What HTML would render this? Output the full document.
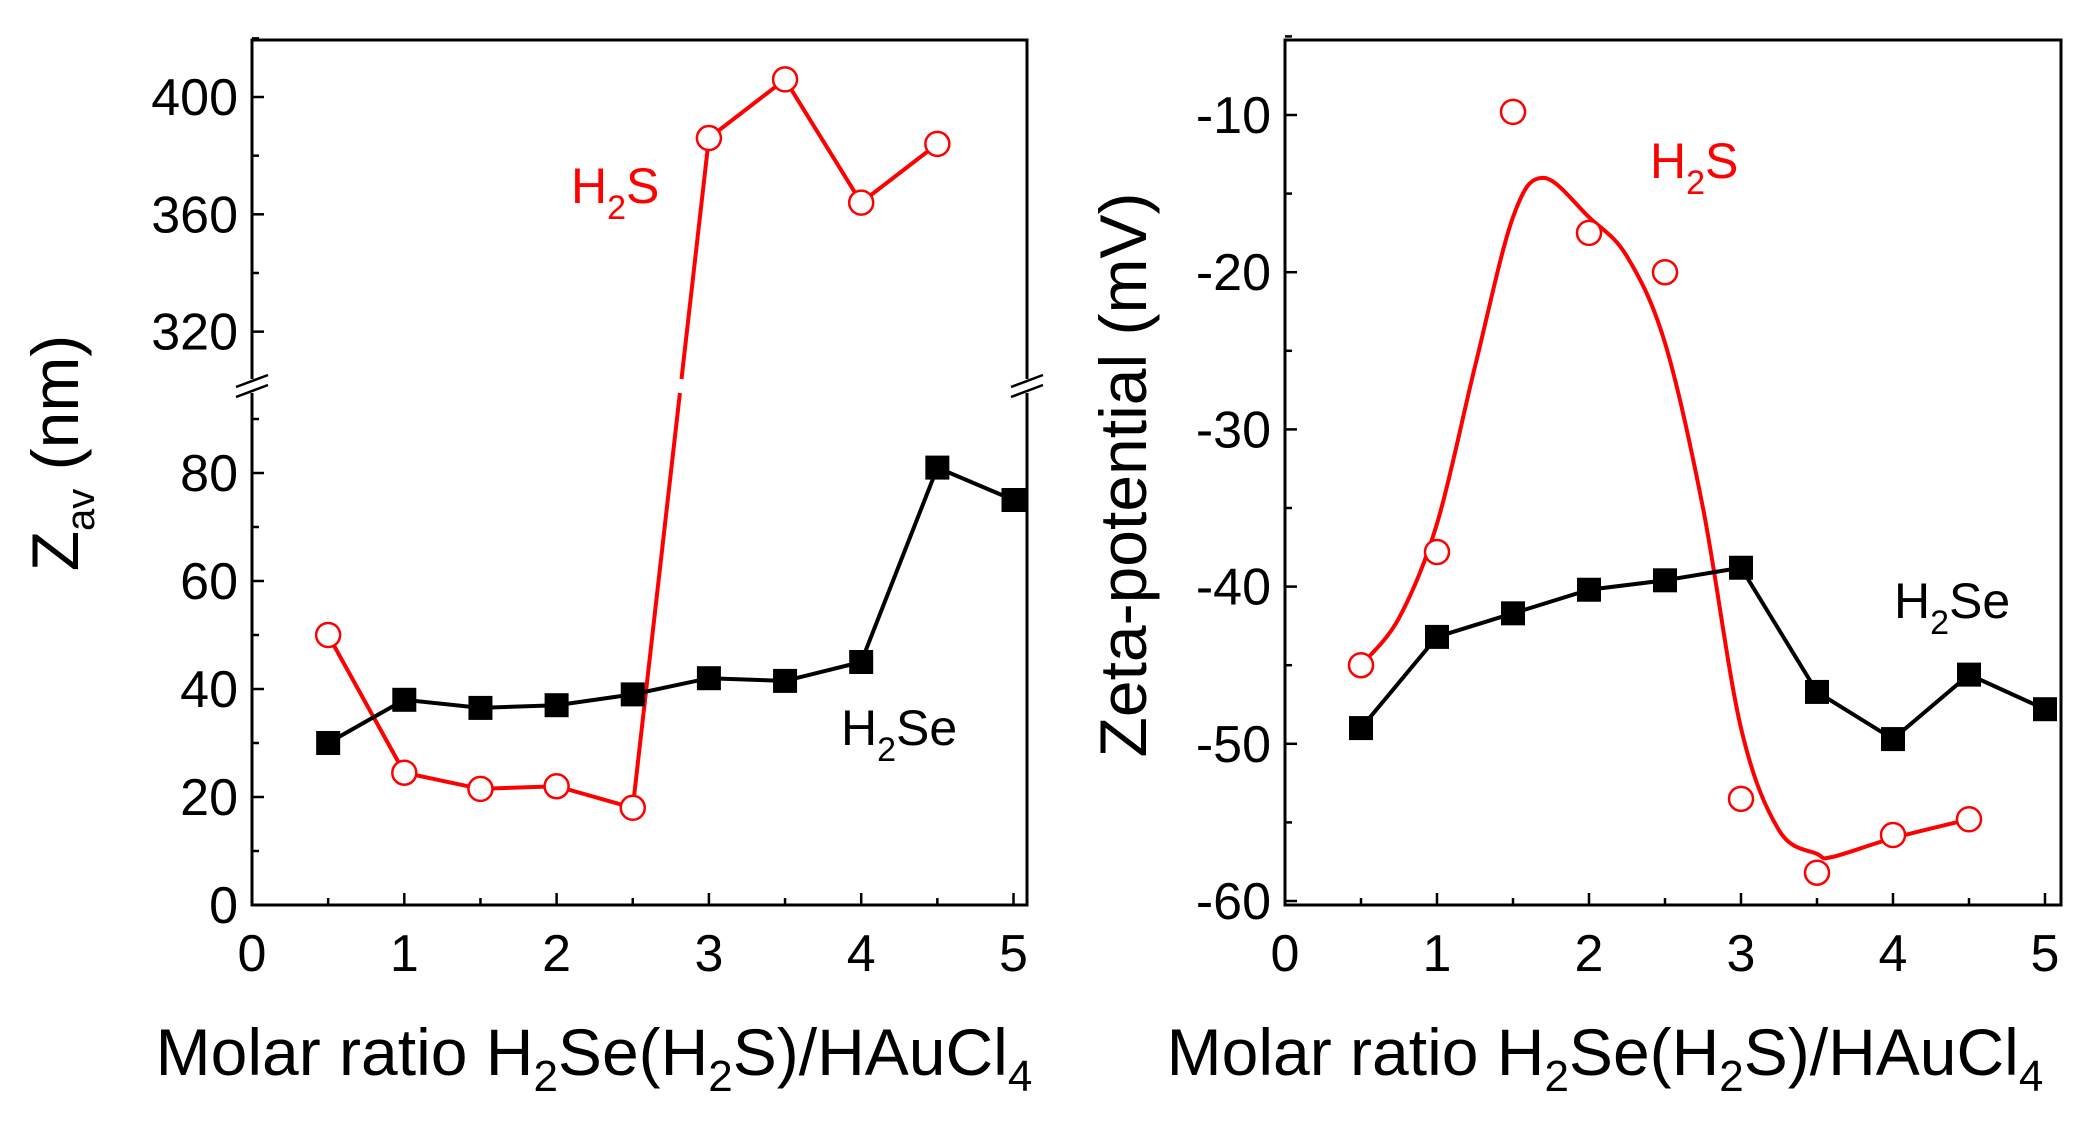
<!DOCTYPE html>
<html><head><meta charset="utf-8"><style>
html,body{margin:0;padding:0;background:#fff;}
svg{display:block;font-family:"Liberation Sans",Arial,sans-serif;}
</style></head><body>
<svg id="chart" width="2078" height="1129" viewBox="0 0 2078 1129" xmlns="http://www.w3.org/2000/svg"></svg>
<script>
const xVals=[0.5,1,1.5,2,2.5,3,3.5,4,4.5,5];
const zavH2Se=[30,38,36.5,37,39,42,41.5,45,81,75];
const zavH2SX=[0.5,1,1.5,2,2.5,3,3.5,4,4.5];
const zavH2S=[50,24.5,21.5,22,18,386,406,364,384];
const zetaH2Se=[-49,-43.2,-41.7,-40.2,-39.6,-38.8,-46.7,-49.7,-45.6,-47.8];
const zetaH2SX=[0.5,1,1.5,2,2.5,3,3.5,4,4.5];
const zetaH2S=[-45,-37.8,-9.8,-17.5,-20,-53.5,-58.2,-55.8,-54.8];
const fitX=[0.5,0.75,1,1.25,1.5,1.7,2,2.25,2.5,2.75,3,3.25,3.5,3.6,4,4.5];
const fitY=[-45,-42,-36,-26,-16.5,-14,-16.5,-19,-24.5,-35,-49,-55.5,-57,-57.2,-56,-54.8];
const xTicks=[0,1,2,3,4,5];
const lowTicks=[0,20,40,60,80];
const upTicks=[320,360,400];
const zetaTicks=[-60,-50,-40,-30,-20,-10];

const NS='http://www.w3.org/2000/svg';
const svg=document.getElementById('chart');
const FS=52;
function mk(tag,attrs,parent){const e=document.createElementNS(NS,tag);for(const k in attrs)e.setAttribute(k,attrs[k]);(parent||svg).appendChild(e);return e;}

const L={l:252,r:1027,t:40,b:905};
const lx=v=>252+v*152.3;
const lyLow=v=>905-v*5.4;
const lyUp=v=>97+(400-v)*2.933;
const ly=v=>v>200?lyUp(v):lyLow(v);
const R={l:1285,r:2061,t:40,b:905};
const rx=v=>1285+v*152;
const ry=v=>115+(-10-v)*15.72;

function frame(name){const g=mk('g',{});return g;}

const gl=frame('left-axes');
const breakY=387;
mk('path',{d:`M${L.l},${breakY-8} V${L.t} H${L.r} V${breakY-8} M${L.r},${breakY+6} V${L.b} H${L.l} V${breakY+6}`,fill:'none',stroke:'#000','stroke-width':3},gl);
[L.l,L.r].forEach(x=>{for(const d of [-6,4]) mk('line',{x1:x-16,y1:breakY+d+6,x2:x+16,y2:breakY+d-6,stroke:'#000','stroke-width':2.5},gl);});
xTicks.forEach(v=>{const x=lx(v);mk('line',{x1:x,y1:L.b,x2:x,y2:L.b-12,stroke:'#000','stroke-width':2.5},gl);
 const t=mk('text',{x:x,y:L.b+66,'font-size':FS,'text-anchor':'middle'},gl);t.textContent=v;});
xTicks.slice(0,5).forEach(v=>{const x=lx(v+0.5);mk('line',{x1:x,y1:L.b,x2:x,y2:L.b-7,stroke:'#000','stroke-width':2.5},gl);});
lowTicks.forEach(v=>{const y=lyLow(v);mk('line',{x1:L.l,y1:y,x2:L.l+12,y2:y,stroke:'#000','stroke-width':2.5},gl);mk('line',{x1:L.l,y1:lyLow(v+10),x2:L.l+7,y2:lyLow(v+10),stroke:'#000','stroke-width':2.5},gl);
 const t=mk('text',{x:L.l-14,y:y+18,'font-size':FS,'text-anchor':'end'},gl);t.textContent=v;});
upTicks.forEach(v=>{const y=lyUp(v);mk('line',{x1:L.l,y1:y,x2:L.l+12,y2:y,stroke:'#000','stroke-width':2.5},gl);mk('line',{x1:L.l,y1:lyUp(v+20),x2:L.l+7,y2:lyUp(v+20),stroke:'#000','stroke-width':2.5},gl);
 const t=mk('text',{x:L.l-14,y:y+18,'font-size':FS,'text-anchor':'end'},gl);t.textContent=v;});

const ps=zavH2SX.map((v,i)=>[lx(v),ly(zavH2S[i])]);
const sLine=mk('path',{d:'M'+ps.slice(0,5).map(p=>p.join(',')).join(' L')+' M'+ps.slice(5).map(p=>p.join(',')).join(' L'),fill:'none',stroke:'#f00','stroke-width':4});

{const a=ps[4],b=ps[5];const f=t=>[a[0]+(b[0]-a[0])*t,a[1]+(b[1]-a[1])*t];const tg1=(a[1]-(breakY+6))/(a[1]-b[1]),tg2=(a[1]-(breakY-8))/(a[1]-b[1]);
 const p1=f(tg1),p2=f(tg2);const j=mk('path',{d:`M${a[0]},${a[1]} L${p1[0]},${p1[1]} M${p2[0]},${p2[1]} L${b[0]},${b[1]}`,stroke:'#f00','stroke-width':4,fill:'none'});}
const seL=xVals.map((v,i)=>[lx(v),ly(zavH2Se[i])]);
const seLine=mk('path',{d:'M'+seL.map(p=>p.join(',')).join(' L'),fill:'none',stroke:'#000','stroke-width':4});

seL.forEach(p=>{const r=mk('rect',{x:p[0]-12,y:p[1]-12,width:24,height:24,fill:'#000'});});
ps.forEach(p=>{const c=mk('circle',{cx:p[0],cy:p[1],r:12,fill:'#fff',stroke:'#f00','stroke-width':2.5});});

const gr=frame('right-axes');
mk('rect',{x:R.l,y:R.t,width:R.r-R.l,height:R.b-R.t,fill:'none',stroke:'#000','stroke-width':3},gr);
xTicks.forEach(v=>{const x=rx(v);mk('line',{x1:x,y1:R.b,x2:x,y2:R.b-12,stroke:'#000','stroke-width':2.5},gr);
 const t=mk('text',{x:x,y:R.b+66,'font-size':FS,'text-anchor':'middle'},gr);t.textContent=v;});
xTicks.slice(0,5).forEach(v=>{const x=rx(v+0.5);mk('line',{x1:x,y1:R.b,x2:x,y2:R.b-7,stroke:'#000','stroke-width':2.5},gr);});
zetaTicks.forEach(v=>{const y=ry(v);mk('line',{x1:R.l,y1:y,x2:R.l+12,y2:y,stroke:'#000','stroke-width':2.5},gr);mk('line',{x1:R.l,y1:ry(v+5),x2:R.l+7,y2:ry(v+5),stroke:'#000','stroke-width':2.5},gr);
 const t=mk('text',{x:R.l-14,y:y+18,'font-size':FS,'text-anchor':'end'},gr);t.textContent=v;});

const fp=fitX.map((v,i)=>[rx(v),ry(fitY[i])]);
let d='M'+fp[0].join(',');
for(let i=0;i<fp.length-1;i++){const p0=fp[Math.max(0,i-1)],p1=fp[i],p2=fp[i+1],p3=fp[Math.min(fp.length-1,i+2)];
 d+=` C${p1[0]+(p2[0]-p0[0])/6},${p1[1]+(p2[1]-p0[1])/6} ${p2[0]-(p3[0]-p1[0])/6},${p2[1]-(p3[1]-p1[1])/6} ${p2[0]},${p2[1]}`;}
const fc=mk('path',{d:d,fill:'none',stroke:'#f00','stroke-width':4});
const seR=xVals.map((v,i)=>[rx(v),ry(zetaH2Se[i])]);
const seRL=mk('path',{d:'M'+seR.map(p=>p.join(',')).join(' L'),fill:'none',stroke:'#000','stroke-width':4});

seR.forEach(p=>{const r=mk('rect',{x:p[0]-12,y:p[1]-12,width:24,height:24,fill:'#000'});});
zetaH2SX.forEach((v,i)=>{const c=mk('circle',{cx:rx(v),cy:ry(zetaH2S[i]),r:12,fill:'#fff',stroke:'#f00','stroke-width':2.5});});
</script>
<svg width="2078" height="1129" style="position:absolute;left:0;top:0" font-family="Liberation Sans, Arial, sans-serif">
<text x="571" y="203" font-size="50" fill="#f00">H<tspan font-size="34" dy="16">2</tspan><tspan dy="-16">S</tspan></text>
<text x="841" y="745" font-size="50" fill="#000">H<tspan font-size="34" dy="16">2</tspan><tspan dy="-16">Se</tspan></text>
<text x="1650" y="178" font-size="50" fill="#f00">H<tspan font-size="34" dy="16">2</tspan><tspan dy="-16">S</tspan></text>
<text x="1894" y="618" font-size="50" fill="#000">H<tspan font-size="34" dy="16">2</tspan><tspan dy="-16">Se</tspan></text>
<text x="594" y="1075" font-size="66" text-anchor="middle">Molar ratio H<tspan font-size="44" dy="16">2</tspan><tspan dy="-16">Se(H</tspan><tspan font-size="44" dy="16">2</tspan><tspan dy="-16">S)/HAuCl</tspan><tspan font-size="44" dy="16">4</tspan></text>
<text x="1605" y="1075" font-size="66" text-anchor="middle">Molar ratio H<tspan font-size="44" dy="16">2</tspan><tspan dy="-16">Se(H</tspan><tspan font-size="44" dy="16">2</tspan><tspan dy="-16">S)/HAuCl</tspan><tspan font-size="44" dy="16">4</tspan></text>
<text transform="translate(78,453) rotate(-90)" font-size="66" text-anchor="middle">Z<tspan font-size="40" dy="16">av</tspan><tspan dy="-16"> (nm)</tspan></text>
<text transform="translate(1146,475) rotate(-90)" font-size="66" text-anchor="middle">Zeta-potential (mV)</text>
</svg>
</body></html>
